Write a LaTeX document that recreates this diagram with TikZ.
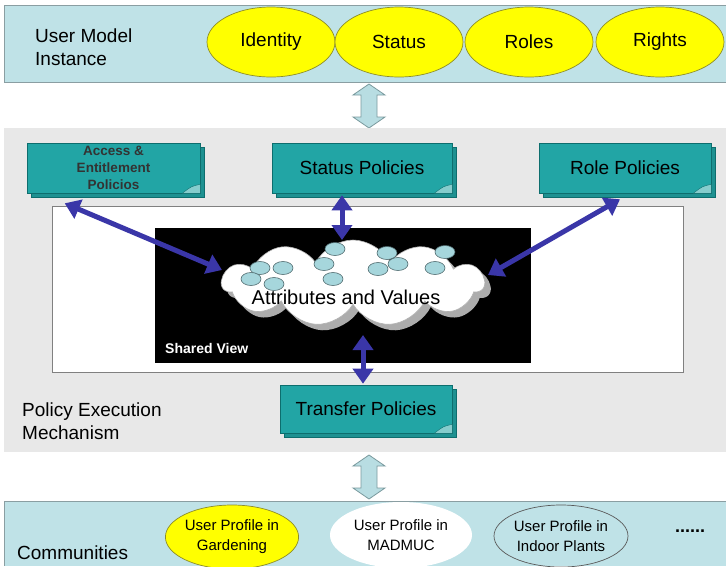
\documentclass[tikz,border=0pt]{standalone}
\usepackage{fontspec}
\setmainfont{Liberation Sans}
\usetikzlibrary{shapes.geometric,shapes.symbols,arrows.meta,shadows}
\definecolor{bandblue}{HTML}{BFE2E7}
\definecolor{bandline}{HTML}{8A9EA2}
\definecolor{midgray}{HTML}{E8E8E8}
\definecolor{tealc}{HTML}{22A5A5}
\definecolor{tealdark}{HTML}{0D6E6E}
\definecolor{yel}{HTML}{FFFF00}
\definecolor{yeldark}{HTML}{8C8C2A}
\definecolor{arrblue}{HTML}{3A36A8}
\definecolor{dotc}{HTML}{A6D6DC}
\definecolor{dotline}{HTML}{4F6A6E}
\definecolor{hfill}{HTML}{B8DDE2}
\definecolor{hdraw}{HTML}{7A9A9E}
\begin{document}
\begin{tikzpicture}[x=1pt,y=-1pt,
  big/.style={font=\fontsize{19}{22}\selectfont},
  yellipse/.style={ellipse, fill=yel, draw=yeldark, line width=0.7pt, minimum width=128pt, minimum height=70pt, inner sep=0pt, big},
  pol/.style={rectangle, fill=tealc, draw=tealdark, line width=0.6pt, inner sep=0pt,
     copy shadow={shadow xshift=4pt, shadow yshift=-4pt, fill=tealc!88!black, draw=tealdark},
     minimum height=50pt},
  dotel/.style={ellipse, fill=dotc, draw=dotline, line width=0.6pt, minimum width=20pt, minimum height=13pt, inner sep=0pt},
  barrow/.style={draw=arrblue, line width=5pt, {Triangle[length=15pt,width=20pt]}-{Triangle[length=15pt,width=20pt]}},
  prof/.style={ellipse, inner sep=0pt, align=center, font=\fontsize{15}{20}\selectfont},
  lbl/.style={anchor=west, align=left, inner sep=0pt, font=\fontsize{19}{23}\selectfont},
  cloudsh/.style={cloud, cloud puffs=11, cloud puff arc=125, aspect=3.0, minimum width=262pt, minimum height=86pt, inner sep=0pt},
  hollowarrow/.pic={
    \draw[fill=hfill, draw=hdraw, line width=0.8pt] (0,0) -- (16,11) -- (8,11) -- (8,33) -- (16,33) -- (0,44) -- (-16,33) -- (-8,33) -- (-8,11) -- (-16,11) -- cycle;}
]
\useasboundingbox (0,0) rectangle (726,566);
\fill[white] (0,0) rectangle (726,566);

% top band
\fill[bandblue] (4,5) rectangle (726,82);
\draw[bandline, line width=0.8pt] (726,5) -- (4,5) -- (4,82) -- (726,82);
\node[lbl] (umi) at (35,47) {User Model\\Instance};
\node[yellipse] (id) at (271,42) {Identity};
\node[yellipse] (stat) at (399,42) {Status};
\node[yellipse] (rol) at (529,42) {Roles};
\node[yellipse] (rig) at (660,42) {Rights};

% hollow arrow top
\pic (ha1) at (369,84) {hollowarrow};

% middle band
\fill[midgray] (4,128) rectangle (726,452);
\node[lbl] (pem) at (22,421) {Policy Execution\\Mechanism};

% white box and shared view
\draw[gray, fill=white, line width=0.8pt] (52,206) rectangle (683,372);
\fill[black] (155,228) rectangle (531,363);
\node[anchor=west, text=white, font=\bfseries\fontsize{14}{16}\selectfont, inner sep=0pt] (sv) at (165,348) {Shared View};

% cloud
\node[cloudsh, fill=gray!65] (clsh) at (359,289) {};
\node[cloudsh, fill=white, draw=gray!60, line width=0.6pt] (cl) at (353,283) {};
\foreach \p [count=\i] in {(335,249),(260,268),(283,268),(251,279),(274,284),(324,264),(333,279),(387,253),(398,264),(378,269),(445,252),(435,268)}
  \node[dotel] (d\i) at \p {};
\node[font=\fontsize{20}{24}\selectfont, inner sep=0pt] (av) at (346,297) {Attributes and Values};

% policy boxes
\node[pol, minimum width=173pt, align=center, font=\bfseries\fontsize{13.5}{17}\selectfont, text=black!80] (acc) at (113.5,168) {Access \&\\Entitlement\\Policios};
\node[pol, minimum width=180pt, big] (st) at (362,168) {Status Policies};
\node[pol, minimum width=172pt, big] (ro) at (625,168) {Role Policies};
\node[pol, minimum width=172pt, minimum height=48pt, big] (tr) at (366,409) {Transfer Policies};
\foreach \b in {acc,st,ro,tr}
  \draw[fill=tealc!55!white, draw=tealdark, line width=0.4pt]
    ([xshift=-18pt]\b.south east) .. controls ([shift={(-9,-7)}]\b.south east) .. ([shift={(0,-9)}]\b.south east) -- (\b.south east) -- cycle;

% blue arrows
\draw[barrow] ([shift={(38,10)}]acc.south west) -- ([shift={(-131,-13)}]cl.center);
\draw[barrow] ([shift={(-20,2)}]st.south) -- ([shift={(-11,-43)}]cl.center);
\draw[barrow] ([shift={(-5,6)}]ro.south) -- ([shift={(135,-8)}]cl.center);
\draw[barrow] ([shift={(10,52)}]cl.center) -- ([shift={(-3,-1)}]tr.north);

% hollow arrow bottom
\pic (ha2) at (369,455) {hollowarrow};

% bottom band
\fill[bandblue] (4,501) rectangle (726,566);
\draw[bandline, line width=0.8pt] (726,501) -- (4,501) -- (4,566);
\node[lbl] (com) at (17,553) {Communities};
\node[prof, fill=yel, draw=yeldark, line width=0.7pt, minimum width=130pt, minimum height=64pt] (gar) at (232,537) {User Profile in\\Gardening};
\node[prof, fill=white, minimum width=142pt, minimum height=66pt] (mad) at (401,535) {User Profile in\\MADMUC};
\node[prof, draw=gray!70!black, line width=0.7pt, minimum width=134pt, minimum height=62pt] (ind) at (561,536) {User Profile in\\Indoor Plants};
\node[font=\bfseries\fontsize{18}{20}\selectfont, inner sep=0pt] (more) at (690,531) {......};
\end{tikzpicture}
\end{document}
